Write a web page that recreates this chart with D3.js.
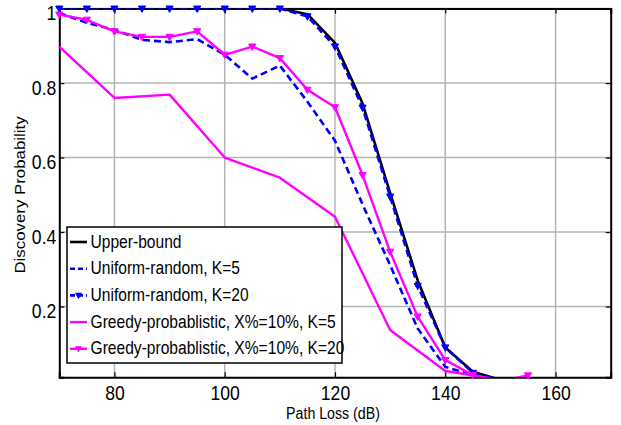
<!DOCTYPE html>
<html>
<head>
<meta charset="utf-8">
<script src="https://cdn.jsdelivr.net/npm/d3@7"></script>
<style>
  body { margin: 0; background: #fff; }
  text { font-family: "Liberation Sans", Arial, sans-serif; fill: #000; }
</style>
</head>
<body>
<svg id="chart" width="621" height="425"></svg>
<script>
// data
const pathLoss = [70,75,80,85,90,95,100,105,110,115,120,125,130,135,140,145,150]
const pathLossCoarse = [70,80,90,100,110,120,130,140,150]
const pathLossLong = [70,75,80,85,90,95,100,105,110,115,120,125,130,135,140,145,150,155]

const upperBound = [1,1,1,1,1,1,1,1,1,0.985,0.908,0.745,0.505,0.27,0.09,0.025,0.003]
const uniformK5 = [0.988,0.962,0.943,0.916,0.91,0.918,0.876,0.812,0.847,0.75,0.645,0.474,0.311,0.141,0.038,0.016,0]
const uniformK20 = [1,1,1,1,1,1,1,1,1,0.979,0.898,0.734,0.495,0.255,0.09,0.022,0]
const greedyK5 = [0.898,0.76,0.769,0.6,0.546,0.441,0.137,0.027,0.003]
const greedyK20 = [0.984,0.97,0.939,0.924,0.924,0.939,0.876,0.898,0.867,0.782,0.735,0.553,0.347,0.173,0.056,0.016,0,0.015]

const xTicks = [80,100,120,140,160]
const yTicks = [0.2,0.4,0.6,0.8,1]

const seriesNames = ["Upper-bound", "Uniform-random, K=5", "Uniform-random, K=20",
  "Greedy-probablistic, X%=10%, K=5", "Greedy-probablistic, X%=10%, K=20"]

const series = [
  {name: seriesNames[0], xs: pathLoss, ys: upperBound, color: "#000", dash: null, marker: false, w: 2.6},
  {name: seriesNames[1], xs: pathLoss, ys: uniformK5, color: "#0000ff", dash: "7,4", marker: false, w: 2.6},
  {name: seriesNames[2], xs: pathLoss, ys: uniformK20, color: "#0000ff", dash: "7,4", marker: true, w: 2.6},
  {name: seriesNames[3], xs: pathLossCoarse, ys: greedyK5, color: "#ff00ff", dash: null, marker: false, w: 2.4},
  {name: seriesNames[4], xs: pathLossLong, ys: greedyK20, color: "#ff00ff", dash: null, marker: true, w: 2.4},
]

const STRETCH = 1.17   // the picture text is a bit taller than wide
const plotLeft = 59.3, plotRight = 610.7, plotTop = 8.6, plotBottom = 377.3

const svg = d3.select("#chart")
const x = d3.scaleLinear().domain([70, 170]).range([plotLeft, plotRight])
const y = d3.scaleLinear().domain([0.01, 1]).range([plotBottom, plotTop])

svg.append("defs").append("clipPath").attr("id", "plotclip")
  .append("rect")
  .attr("x", plotLeft).attr("y", plotTop)
  .attr("width", plotRight - plotLeft).attr("height", plotBottom - plotTop)

// grid
svg.append("g").selectAll("line")
  .data(xTicks).enter().append("line")
  .attr("x1", d => x(d)).attr("x2", d => x(d))
  .attr("y1", plotTop).attr("y2", plotBottom)
  .attr("stroke", "#b4b4b4").attr("stroke-width", 1.5)
svg.append("g").selectAll("line")
  .data(yTicks).enter().append("line")
  .attr("x1", plotLeft).attr("x2", plotRight)
  .attr("y1", d => y(d)).attr("y2", d => y(d))
  .attr("stroke", "#b4b4b4").attr("stroke-width", 1.5)

// axes, ticks pointing inward
const xAxis = svg.append("g").attr("transform", `translate(0,${plotBottom})`)
  .call(d3.axisBottom(x).tickValues(xTicks).tickSize(-5).tickPadding(7))
xAxis.selectAll("text").attr("font-size", 17.6)
  .attr("transform", `scale(1,${STRETCH})`)

const yAxis = svg.append("g").attr("transform", `translate(${plotLeft},0)`)
  .call(d3.axisLeft(y).tickValues(yTicks).tickSize(-5).tickPadding(3)
    .tickFormat(d => d == 1 ? "1" : d3.format(".1f")(d)))
yAxis.selectAll("text").attr("font-size", 17.6).attr("dy", "0.55em")
  .attr("transform", `scale(1,${STRETCH})`)

svg.append("g").attr("transform", `translate(0,${plotTop})`)
  .call(d3.axisTop(x).tickValues(xTicks).tickSize(-5).tickFormat(""))
svg.append("g").attr("transform", `translate(${plotRight},0)`)
  .call(d3.axisRight(y).tickValues(yTicks).tickSize(-5).tickFormat(""))

svg.selectAll(".domain").attr("stroke", "#000").attr("stroke-width", 2)
svg.selectAll(".tick line").attr("stroke", "#000").attr("stroke-width", 1.2)

// series
const line = d3.line().x(d => x(d[0])).y(d => y(d[1]))
const triangle = "M-3.6,-2.6L3.6,-2.6L0,3.8Z"

const plot = svg.append("g")
series.forEach(s => {
  let pts = s.xs.map((v, i) => [v, s.ys[i]])
  plot.append("path")
    .attr("d", line(pts))
    .attr("clip-path", "url(#plotclip)")
    .attr("fill", "none")
    .attr("stroke", s.color)
    .attr("stroke-width", s.w)
    .attr("stroke-dasharray", s.dash)
    .attr("stroke-linejoin", "round")
  if (s.marker) {
    plot.selectAll(null)
      .data(pts.filter(d => d[1] >= 0.01)).enter()
      .append("path")
      .attr("d", triangle)
      .attr("transform", d => `translate(${x(d[0])},${y(d[1])})`)
      .attr("fill", s.color)
      .attr("stroke", s.color)
      .attr("stroke-width", 1)
  }
})

// axis titles
svg.append("text")
  .attr("transform", `translate(${(plotLeft + plotRight) / 2 - 2},419) scale(1,${STRETCH})`)
  .attr("text-anchor", "middle")
  .attr("font-size", 14.2)
  .text("Path Loss (dB)")

svg.append("text")
  .attr("transform", `translate(25,195) scale(1,${STRETCH}) rotate(-90)`)
  .attr("text-anchor", "middle")
  .attr("font-size", 14.4)
  .text("Discovery Probability")

// legend
const legend = svg.append("g").attr("transform", "translate(67,227)")
legend.append("rect")
  .attr("width", 275).attr("height", 136)
  .attr("fill", "#fff").attr("stroke", "#000").attr("stroke-width", 1.5)

const items = legend.selectAll(".legend-item")
  .data(series).enter().append("g")
  .attr("class", "legend-item")
  .attr("transform", (d, i) => `translate(0, ${15 + i * 26.7})`)

items.append("line")
  .attr("x1", 3).attr("x2", 20).attr("y1", 0).attr("y2", 0)
  .attr("stroke", d => d.color)
  .attr("stroke-width", d => d.w)
  .attr("stroke-dasharray", d => d.dash ? "5,3" : null)

items.filter(d => d.marker).append("path")
  .attr("d", triangle)
  .attr("transform", "translate(11.5,0)")
  .attr("fill", d => d.color)

items.append("text")
  .attr("transform", `translate(23.5,5.5) scale(1,${STRETCH})`)
  .attr("font-size", 15.6)
  .text(d => d.name)
</script>
</body>
</html>
